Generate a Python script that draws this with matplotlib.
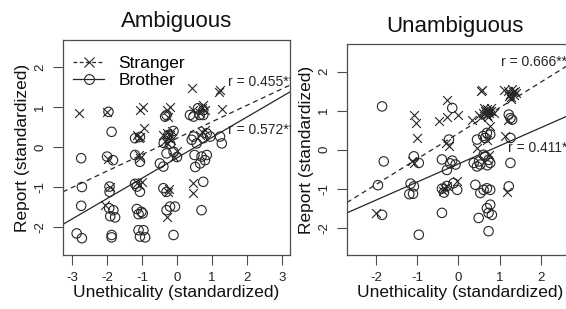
import matplotlib
matplotlib.use("Agg")
import matplotlib.pyplot as plt
from matplotlib.lines import Line2D

plt.rcParams['font.family'] = ['Liberation Sans', 'DejaVu Sans']

# --- data ---
amb_str_x = [-2.8, -1.99, -1.96, -1.91, -2.06,
             -1.06, -0.96, -0.94, -1.15, -1.06, -1.1, -1.1, -1.06, -1.15, -1.0, -1.08,
             -0.3, -0.2, -0.25, -0.3, -0.2, -0.25, -0.35, -0.15, -0.28, -0.18, -0.4, 0.0, -0.1, -0.25, -0.3, -0.22,
             0.42, 0.47, 0.75, 0.8, 0.7, 0.65, 0.8, 0.66, 0.72, 0.47, 0.47,
             1.23, 1.2, 1.28]
amb_str_y = [0.84, 0.88, -0.3, -0.99, -1.45,
             0.93, 1.0, 0.47, 0.3, 0.26, 0.22, -0.2, -0.28, -0.9, -0.87, -0.95,
             0.93, 1.0, 0.76, 0.35, 0.3, 0.22, 0.15, 0.4, 0.1, 0.18, 0.3, -0.1, -0.25, -1.12, -1.74, -1.05,
             1.47, 0.93, 1.05, 0.93, 0.98, 0.85, 0.43, 0.3, 0.38, -0.91, -1.16,
             1.43, 1.38, 0.94]

amb_bro_x = [-2.74, -2.72, -2.74, -2.87, -2.72,
             -1.87, -1.96, -2.0, -1.83, -1.93, -1.93, -1.94, -1.82, -1.91, -1.77, -1.87, -1.87,
             -1.2, -1.06, -1.2, -1.06, -1.15, -1.06, -1.2, -1.15, -1.02, -0.98, -1.1, -1.1, -0.96, -1.06, -0.91,
             -0.34, -0.3, -0.38, -0.2, -0.1, -0.25, -0.49, -0.39, -0.3, -0.1, 0.0, -0.39, -0.3, -0.2, -0.3, -0.06, -0.1,
             0.37, 0.47, 0.6, 0.75, 0.65, 0.75, 0.47, 0.42, 0.56, 0.85, 0.95, 0.75, 0.5, 0.7, 0.8, 0.66, 0.52, 0.85, 0.75, 0.7,
             1.23, 1.28]
amb_bro_y = [-0.28, -1.0, -1.47, -2.16, -2.28,
             0.38, 0.88, -0.24, -0.33, -0.99, -1.12, -1.53, -1.58, -1.73, -1.76, -2.2, -2.26,
             0.22, 0.25, -0.2, -0.37, -0.99, -1.12, -0.92, -1.55, -1.62, -1.66, -1.68, -2.08, -2.08, -2.24, -2.26,
             0.76, 0.8, 0.1, 0.08, 0.4, 0.3, -0.41, -0.49, -0.16, -0.12, -0.25, -1.03, -1.12, -1.49, -1.58, -1.49, -2.2,
             0.8, 0.76, 0.97, 0.92, 0.8, 0.8, 0.26, 0.18, 0.09, 0.34, 0.26, 0.22, -0.2, -0.24, -0.33, -0.41, -0.5, -0.2, -0.87, -1.58,
             0.26, 0.09]

una_str_x = [-1.99, -1.08, -1.04, -1.0, -1.07, -1.12,
             -0.27, -0.27, -0.48, 0.0, -0.31, -0.23, -0.03, -0.35, -0.27, -0.38,
             0.33, 0.57, 0.55,
             0.55, 0.6, 0.65, 0.7, 0.75, 0.8, 0.68, 0.72, 0.62, 0.78, 0.85, 0.5, 0.66, 0.74,
             0.69, 0.76, 0.73, 0.45,
             1.1, 1.2, 1.25, 1.3, 1.35, 1.28, 1.38, 1.22, 1.32, 1.4, 1.27,
             1.14, 1.18, 1.2]
una_str_y = [-1.62, 0.9, 0.68, 0.3, -0.34, -0.3,
             1.28, 0.85, 0.73, 0.9, 0.17, 0.09, -0.81, -0.98, -0.94, -1.05,
             0.77, 1.54, 1.5,
             0.85, 0.95, 1.0, 1.05, 0.95, 1.0, 0.9, 0.85, 1.08, 1.08, 0.95, 0.9, 0.97, 1.0,
             0.26, 0.6, -0.13, 0.05,
             1.54, 1.5, 1.42, 1.55, 1.4, 1.35, 1.5, 1.38, 1.48, 1.45, 1.3,
             0.34, -1.09, 0.75]

una_bro_x = [-1.85, -1.81, -1.95, -1.85,
             -1.08, -0.96, -1.16, -1.08, -1.19, -1.1, -0.96,
             -0.15, -0.23, -0.4, -0.15, -0.2, -0.28, -0.07, -0.4, -0.35, -0.28, -0.12, -0.03, -0.4,
             0.45, 0.6, 0.69, 0.77, 0.65,
             0.37, 0.53, 0.45, 0.65, 0.73, 0.77, 0.61, 0.5, 0.7,
             0.41, 0.61, 0.69, 0.77, 0.53,
             0.69, 0.77, 0.73, 0.81, 0.49, 0.73,
             1.22, 1.26, 1.3, 1.26, 1.26, 1.22]
una_bro_y = [1.11, -0.3, -0.91, -1.67,
             -0.17, -0.34, -0.87, -0.94, -1.14, -1.13, -2.18,
             1.07, 0.26, -0.25, -0.28, -0.35, -0.52, -0.38, -1.0, -1.1, -0.93, -0.86, -1.03, -1.62,
             0.26, 0.35, 0.43, 0.39, 0.3,
             -0.34, -0.38, -0.43, -0.17, -0.26, -0.34, -0.13, -0.3, -0.4,
             -0.9, -1.03, -0.99, -1.03, -1.11,
             -1.5, -1.41, -1.62, -1.67, -1.75, -2.09,
             0.9, 0.81, 0.77, 0.3, -0.34, -0.94]

# fitted lines: [stranger, brother]
amb_slope = [0.411, 0.51]
amb_icpt = [0.22, -0.27]
una_slope = [0.657, 0.465]
una_icpt = [0.42, -0.364]

amb_r = ["r = 0.455**", "r = 0.572**"]
una_r = ["r = 0.666**", "r = 0.411**"]

col = '#262626'
box = '#4d4d4d'

fig = plt.figure(figsize=(5.66, 3.09), dpi=100)
ax1 = fig.add_axes([63/566, 54/309, 227/566, 215/309])
ax2 = fig.add_axes([347/566, 54/309, 227/566, 211/309])


def panel(ax, title, tx, ty, sx, sy, bx, by, slopes, icpts, rtxt, rpos, xt, xl, yl):
    ax.scatter(sx, sy, marker='x', s=40, c=col, linewidths=0.8, zorder=3)
    ax.scatter(bx, by, marker='o', s=46, facecolors='none', edgecolors=col, linewidths=0.8, zorder=3)
    ax.axline((0, icpts[0]), slope=slopes[0], color=col, lw=0.9, ls=(0, (4, 3)))
    ax.axline((0, icpts[1]), slope=slopes[1], color=col, lw=0.9)
    for t, (x, y) in zip(rtxt, rpos):
        tt = ax.text(x, y, t, fontsize=10, color=col, va='center', ha='left', clip_on=True)
        tt.set_clip_box(ax.bbox)
    ax.set_xlim(xl)
    ax.set_ylim(yl)
    ax.set_xticks(xt)
    ax.set_yticks([-2, -1, 0, 1, 2])
    ax.set_yticklabels(['-2', '-1', '0', '1', '2'], rotation=90, va='center')
    ax.set_xticklabels([str(v) for v in xt])
    ax.tick_params(length=7, width=0.8, color=box, labelsize=9.5, pad=5, labelcolor='#222222')
    for s in ax.spines.values():
        s.set_color(box)
        s.set_linewidth(0.9)
    ax.set_xlabel('Unethicality (standardized)', fontsize=12.5, labelpad=1, color='#111111')
    ax.set_ylabel('Report (standardized)', fontsize=12.5, labelpad=3, color='#111111')
    ax.text(tx, ty, title, transform=ax.transAxes, ha='center', va='baseline', fontsize=16, color='#111111')


panel(ax1, 'Ambiguous', 0.5, 1.062, amb_str_x, amb_str_y, amb_bro_x, amb_bro_y,
      amb_slope, amb_icpt, amb_r, [(1.46, 1.62), (1.46, 0.42)],
      [-3, -2, -1, 0, 1, 2, 3], (-3.26, 3.23), (-2.7, 2.675))
panel(ax2, 'Unambiguous', 0.476, 1.058, una_str_x, una_str_y, una_bro_x, una_bro_y,
      una_slope, una_icpt, una_r, [(1.02, 2.26), (1.2, 0.05)],
      [-2, -1, 0, 1, 2], (-2.7, 2.8), (-2.7, 2.71))

handles = [Line2D([], [], color=col, lw=0.9, ls=(0, (3, 2)), marker='x', ms=7, mew=0.8),
           Line2D([], [], color=col, lw=0.9, marker='o', ms=7, mfc='none', mew=0.8)]
ax1.legend(handles, ['Stranger', 'Brother'], loc='upper left', bbox_to_anchor=(0.045, 0.925),
           frameon=False, fontsize=12.5, handlelength=1.8, handletextpad=0.8,
           labelspacing=0.1, borderaxespad=0.0, borderpad=0.0, numpoints=1)

fig.savefig('out.png', dpi=100)
